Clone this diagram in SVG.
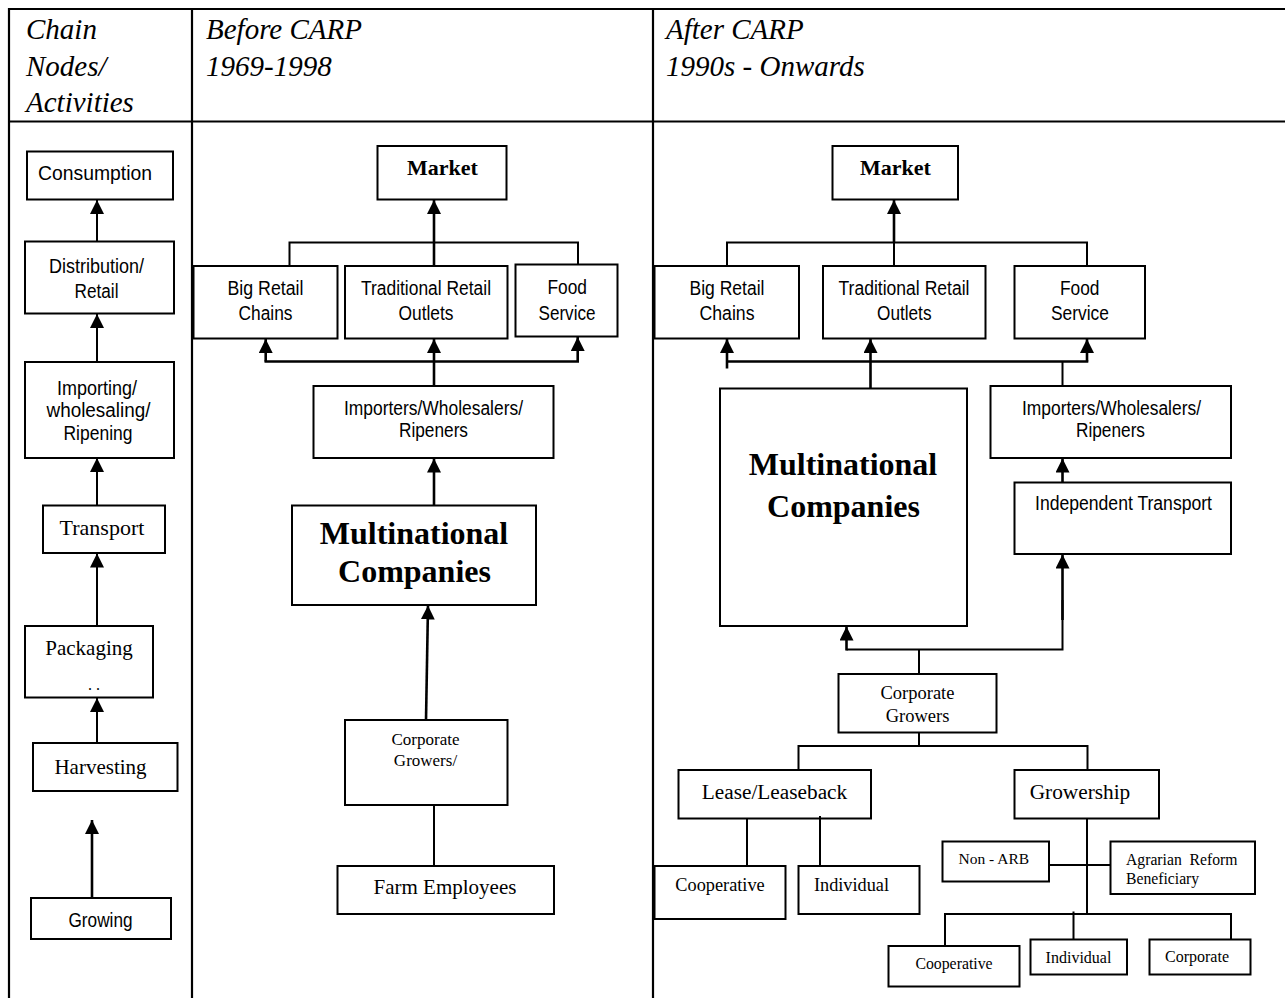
<svg xmlns="http://www.w3.org/2000/svg" width="1285" height="998" viewBox="0 0 1285 998">
<defs>
<style>
.grid{stroke:#000;stroke-width:2.2;fill:none}
.b{fill:#fff;stroke:#000;stroke-width:2}
.c{fill:none;stroke:#000;stroke-width:2}
.ct{fill:none;stroke:#000;stroke-width:2.6}
.h{font-family:"Liberation Serif","Times New Roman",serif;font-style:italic;font-size:29px;fill:#000}
.a{font-family:"Liberation Sans",Arial,sans-serif;font-size:20px;fill:#000}
.t{font-family:"Liberation Serif","Times New Roman",serif;fill:#000}
.bd{font-weight:bold}
</style>
<marker id="ah" markerUnits="userSpaceOnUse" markerWidth="14" markerHeight="14" refX="14" refY="7" orient="auto" viewBox="0 0 14 14"><path d="M0,0 L14,7 L0,14 z" fill="#000"/></marker>
</defs>
<rect width="1285" height="998" fill="#fff"/>
<g id="table">
<line class="grid" x1="8" y1="9" x2="1285" y2="9"/>
<line class="grid" x1="8" y1="121.5" x2="1285" y2="121.5"/>
<line class="grid" x1="9" y1="8" x2="9" y2="998"/>
<line class="grid" x1="192" y1="8" x2="192" y2="998"/>
<line class="grid" x1="653" y1="8" x2="653" y2="998"/>
<text class="h" x="26" y="39">Chain</text>
<text class="h" x="26" y="76">Nodes/</text>
<text class="h" x="26" y="112">Activities</text>
<text class="h" x="206" y="39">Before CARP</text>
<text class="h" x="206" y="76">1969-1998</text>
<text class="h" x="666" y="39">After CARP</text>
<text class="h" x="666" y="76">1990s - Onwards</text>
</g>
<g id="n-consumption"><rect class="b" x="27" y="151.5" width="146" height="48"/><text class="a" x="38" y="180" textLength="114" lengthAdjust="spacingAndGlyphs">Consumption</text></g>
<g id="n-distribution"><rect class="b" x="25" y="241.5" width="149" height="72"/><text class="a" x="49" y="273" textLength="95" lengthAdjust="spacingAndGlyphs">Distribution/</text><text class="a" x="74.5" y="298" textLength="44" lengthAdjust="spacingAndGlyphs">Retail</text></g>
<g id="n-importing"><rect class="b" x="25" y="362" width="149" height="96"/><text class="a" x="57" y="395" textLength="80" lengthAdjust="spacingAndGlyphs">Importing/</text><text class="a" x="46.5" y="417" textLength="104" lengthAdjust="spacingAndGlyphs">wholesaling/</text><text class="a" x="63.5" y="440" textLength="69" lengthAdjust="spacingAndGlyphs">Ripening</text></g>
<g id="n-transport"><rect class="b" x="43" y="505.5" width="122" height="47.5"/><text class="t" x="102" y="535" font-size="22" text-anchor="middle">Transport</text></g>
<g id="n-packaging"><rect class="b" x="25" y="626" width="128" height="71.5"/><text class="t" x="89" y="655" font-size="21" text-anchor="middle">Packaging</text><text class="t" x="94" y="690" font-size="16" text-anchor="middle">. .</text></g>
<g id="n-harvesting"><rect class="b" x="33" y="743" width="144.5" height="48"/><text class="t" x="100.5" y="774" font-size="21" text-anchor="middle">Harvesting</text></g>
<g id="n-growing"><rect class="b" x="31" y="898" width="140" height="41"/><text class="a" x="68.5" y="926.5" textLength="64" lengthAdjust="spacingAndGlyphs">Growing</text></g>

<g id="m-market"><rect class="b" x="377.5" y="146" width="129" height="53.5"/><text class="t bd" x="442.5" y="174.5" font-size="22" text-anchor="middle">Market</text></g>
<g id="m-bigretail"><rect class="b" x="193.5" y="266" width="144" height="72.5"/><text class="a" x="227.5" y="294.5" textLength="76" lengthAdjust="spacingAndGlyphs">Big Retail</text><text class="a" x="238.5" y="320" textLength="54" lengthAdjust="spacingAndGlyphs">Chains</text></g>
<g id="m-traditional"><rect class="b" x="345" y="266" width="162.5" height="72.5"/><text class="a" x="361" y="294.5" textLength="130" lengthAdjust="spacingAndGlyphs">Traditional Retail</text><text class="a" x="398.5" y="320" textLength="55" lengthAdjust="spacingAndGlyphs">Outlets</text></g>
<g id="m-food"><rect class="b" x="515.5" y="264.5" width="102" height="72"/><text class="a" x="547.5" y="293.5" textLength="39.5" lengthAdjust="spacingAndGlyphs">Food</text><text class="a" x="538.5" y="319.5" textLength="57" lengthAdjust="spacingAndGlyphs">Service</text></g>
<g id="m-importers"><rect class="b" x="313.5" y="386" width="240" height="72"/><text class="a" x="344" y="414.5" textLength="179" lengthAdjust="spacingAndGlyphs">Importers/Wholesalers/</text><text class="a" x="399" y="437" textLength="69" lengthAdjust="spacingAndGlyphs">Ripeners</text></g>
<g id="m-mnc"><rect class="b" x="292" y="505.5" width="244" height="99.5"/><text class="t bd" x="414" y="543.5" font-size="32" text-anchor="middle">Multinational</text><text class="t bd" x="414.5" y="582" font-size="32" text-anchor="middle">Companies</text></g>
<g id="m-corporate"><rect class="b" x="345" y="720" width="162.5" height="85"/><text class="t" x="425.5" y="745" font-size="17" text-anchor="middle">Corporate</text><text class="t" x="425.5" y="766" font-size="17" text-anchor="middle">Growers/</text></g>
<g id="m-farm"><rect class="b" x="337.5" y="866" width="216.5" height="48"/><text class="t" x="445" y="893.5" font-size="21" text-anchor="middle">Farm Employees</text></g>

<g id="r-market"><rect class="b" x="832.5" y="146" width="125.5" height="53.5"/><text class="t bd" x="895.5" y="174.5" font-size="22" text-anchor="middle">Market</text></g>
<g id="r-bigretail"><rect class="b" x="654.5" y="266" width="144.5" height="72.5"/><text class="a" x="689.5" y="294.5" textLength="75" lengthAdjust="spacingAndGlyphs">Big Retail</text><text class="a" x="699.5" y="320" textLength="55" lengthAdjust="spacingAndGlyphs">Chains</text></g>
<g id="r-traditional"><rect class="b" x="823" y="266" width="162.5" height="72.5"/><text class="a" x="838.5" y="294.5" textLength="131" lengthAdjust="spacingAndGlyphs">Traditional Retail</text><text class="a" x="877" y="320" textLength="54.5" lengthAdjust="spacingAndGlyphs">Outlets</text></g>
<g id="r-food"><rect class="b" x="1014.5" y="266" width="130.5" height="72.5"/><text class="a" x="1060" y="294.5" textLength="39.5" lengthAdjust="spacingAndGlyphs">Food</text><text class="a" x="1051" y="320" textLength="58" lengthAdjust="spacingAndGlyphs">Service</text></g>
<g id="r-mnc"><rect class="b" x="720" y="388.5" width="247" height="237.5"/><text class="t bd" x="843" y="475" font-size="32" text-anchor="middle">Multinational</text><text class="t bd" x="843.5" y="516.5" font-size="32" text-anchor="middle">Companies</text></g>
<g id="r-importers"><rect class="b" x="990.5" y="386" width="240.5" height="72"/><text class="a" x="1022" y="414.5" textLength="179" lengthAdjust="spacingAndGlyphs">Importers/Wholesalers/</text><text class="a" x="1076" y="437" textLength="69" lengthAdjust="spacingAndGlyphs">Ripeners</text></g>
<g id="r-transport"><rect class="b" x="1014.5" y="482.5" width="216.5" height="71.5"/><text class="a" x="1035" y="509.5" textLength="177" lengthAdjust="spacingAndGlyphs">Independent Transport</text></g>
<g id="r-corporate"><rect class="b" x="838.5" y="674" width="158" height="58.5"/><text class="t" x="917.5" y="699" font-size="18.5" text-anchor="middle">Corporate</text><text class="t" x="917.5" y="722" font-size="18.5" text-anchor="middle">Growers</text></g>
<g id="r-lease"><rect class="b" x="678.5" y="770" width="192.5" height="48.5"/><text class="t" x="774.5" y="798.5" font-size="21.3" text-anchor="middle">Lease/Leaseback</text></g>
<g id="r-growership"><rect class="b" x="1014.5" y="770" width="144.5" height="48.5"/><text class="t" x="1080" y="798.5" font-size="21.3" text-anchor="middle">Growership</text></g>
<g id="r-coop1"><rect class="b" x="654.5" y="866" width="131" height="53"/><text class="t" x="720" y="891" font-size="18.3" text-anchor="middle">Cooperative</text></g>
<g id="r-indiv1"><rect class="b" x="798.5" y="866" width="121" height="48"/><text class="t" x="851.5" y="891" font-size="18.3" text-anchor="middle">Individual</text></g>
<g id="r-nonarb"><rect class="b" x="942.5" y="841.5" width="106.5" height="40"/><text class="t" x="958.5" y="863.5" font-size="15.5">Non - ARB</text></g>
<g id="r-arb"><rect class="b" x="1110.5" y="841.5" width="144.5" height="52.5"/><text class="t" x="1126" y="865" font-size="15.7" xml:space="preserve">Agrarian  Reform</text><text class="t" x="1126" y="884" font-size="15.7">Beneficiary</text></g>
<g id="r-coop2"><rect class="b" x="888.5" y="946" width="131" height="40.5"/><text class="t" x="954" y="968.5" font-size="15.8" text-anchor="middle">Cooperative</text></g>
<g id="r-indiv2"><rect class="b" x="1030.5" y="939.5" width="96.5" height="35"/><text class="t" x="1078.5" y="962.5" font-size="16" text-anchor="middle">Individual</text></g>
<g id="r-corp2"><rect class="b" x="1149.5" y="939.5" width="101" height="35"/><text class="t" x="1197" y="962" font-size="16" text-anchor="middle">Corporate</text></g>

<g id="connectors">
<line class="c" x1="97" y1="241.5" x2="97" y2="200" marker-end="url(#ah)"/>
<line class="c" x1="97" y1="362" x2="97" y2="314" marker-end="url(#ah)"/>
<line class="c" x1="97" y1="505.5" x2="97" y2="458" marker-end="url(#ah)"/>
<line class="c" x1="97" y1="626" x2="97" y2="553.5" marker-end="url(#ah)"/>
<line class="c" x1="97" y1="743" x2="97" y2="698" marker-end="url(#ah)"/>
<line class="ct" x1="92" y1="897" x2="92" y2="820" marker-end="url(#ah)"/>

<line class="ct" x1="434" y1="266" x2="434" y2="200" marker-end="url(#ah)"/>
<polyline class="c" points="289.5,266 289.5,242.5 578,242.5 578,264.5"/>
<line class="ct" x1="434" y1="386" x2="434" y2="339" marker-end="url(#ah)"/>
<line class="ct" x1="264.5" y1="361.5" x2="579" y2="361.5"/>
<line class="ct" x1="265.7" y1="361.5" x2="265.7" y2="339" marker-end="url(#ah)"/>
<line class="ct" x1="577.7" y1="361.5" x2="577.7" y2="337" marker-end="url(#ah)"/>
<line class="ct" x1="434" y1="505.5" x2="434" y2="458.5" marker-end="url(#ah)"/>
<line class="ct" x1="426" y1="720" x2="428" y2="605.5" marker-end="url(#ah)"/>
<line class="c" x1="434" y1="805" x2="434" y2="866"/>

<line class="c" x1="894" y1="266" x2="894" y2="242.5"/>
<line class="ct" x1="894" y1="243" x2="894" y2="200" marker-end="url(#ah)"/>
<polyline class="c" points="727,266 727,242.5 1087,242.5 1087,266"/>
<line class="ct" x1="726" y1="361.5" x2="1088.3" y2="361.5"/>
<line class="ct" x1="727" y1="368.5" x2="727" y2="339" marker-end="url(#ah)"/>
<line class="ct" x1="870.5" y1="388.5" x2="870.5" y2="339" marker-end="url(#ah)"/>
<line class="ct" x1="1087" y1="361.5" x2="1087" y2="339" marker-end="url(#ah)"/>
<line class="c" x1="1062.5" y1="386" x2="1062.5" y2="361.5"/>
<line class="ct" x1="1062.5" y1="482.5" x2="1062.5" y2="458.5" marker-end="url(#ah)"/>
<polyline class="c" points="846.5,649.5 1062.5,649.5 1062.5,600"/>
<line class="ct" x1="846.5" y1="650.5" x2="846.5" y2="626.5" marker-end="url(#ah)"/>
<line class="ct" x1="1062.5" y1="620" x2="1062.5" y2="554.5" marker-end="url(#ah)"/>
<line class="c" x1="919" y1="649.5" x2="919" y2="674"/>
<line class="c" x1="919" y1="732.5" x2="919" y2="746"/>
<polyline class="c" points="798.5,770 798.5,746 1087.5,746 1087.5,770"/>
<line class="c" x1="747" y1="818.5" x2="747" y2="866"/>
<line class="c" x1="820" y1="816" x2="820" y2="866"/>
<line class="c" x1="1087" y1="818.5" x2="1087" y2="914"/>
<line class="c" x1="1049" y1="865" x2="1110.5" y2="865"/>
<polyline class="c" points="945,946 945,914 1231,914 1231,939.5"/>
<line class="c" x1="1073.5" y1="911.5" x2="1073.5" y2="939.5"/>
</g>
</svg>
